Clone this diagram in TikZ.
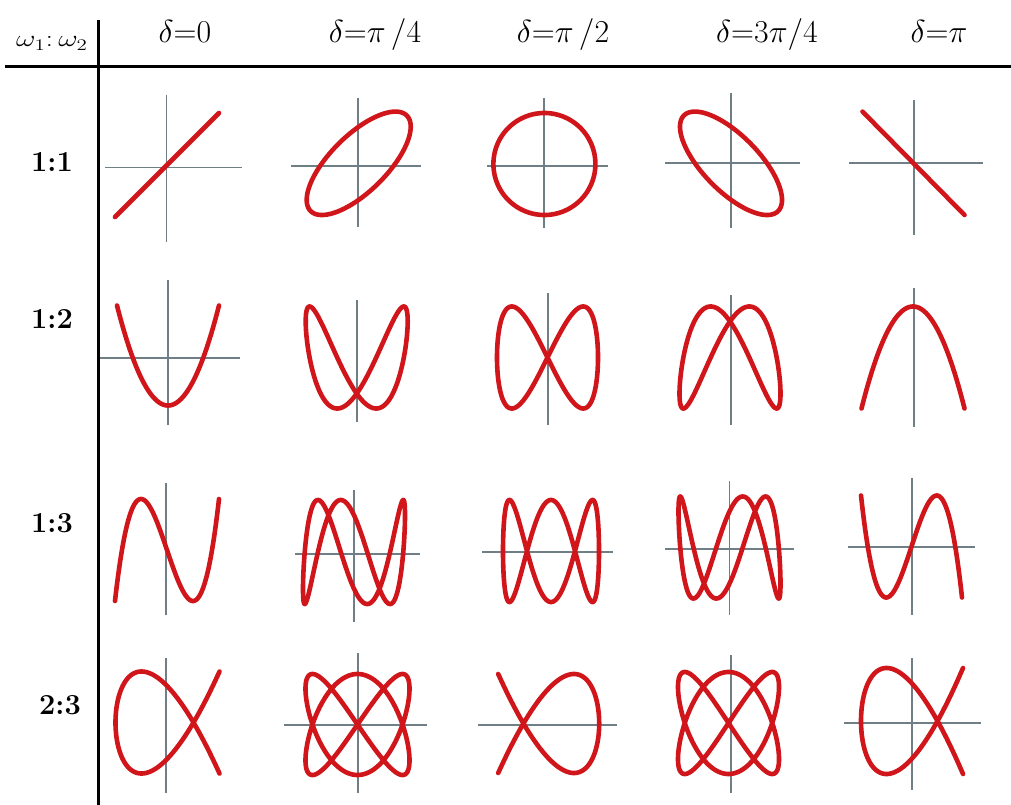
\documentclass[tikz,border=0pt]{standalone}
\usepackage{graphicx}
\definecolor{lred}{RGB}{208,22,26}
\definecolor{axgray}{RGB}{112,126,134}
\tikzset{
  axisline/.style={draw=axgray, line width=1.8pt},
  curve/.style={draw=lred, line width=4.6pt, line cap=round, line join=round},
  frameline/.style={draw=black, line width=3pt},
  headtxt/.style={anchor=base, font=\fontsize{24.88}{28}\selectfont, inner sep=0pt},
  rowtxt/.style={anchor=center, font=\fontsize{29}{32}\selectfont\bfseries, inner sep=0pt},
}
\newcommand{\hd}[1]{\scalebox{1.28}{$#1$}}
% cx cy a b p q delta(deg)
\newcommand{\lissa}[7]{%
  \draw[curve] plot[domain=0:360, samples=721, variable=\t] ({#1+#3*cos(#5*\t)},{#2-#4*cos(#6*\t+#7)});
}
\newcommand{\vax}[3]{\draw[axisline] (#1,#2) -- (#1,#3);}
\newcommand{\hax}[3]{\draw[axisline] (#2,#1) -- (#3,#1);}
\begin{document}
\begin{tikzpicture}[x=1pt,y=-1pt]
\useasboundingbox (0,0) rectangle (1011,805);
\fill[white] (0,0) rectangle (1011,805);

% frame
\draw[frameline] (5,67) -- (1011,67);
\draw[frameline] (98,20) -- (98,805);

% header
\node[anchor=base, inner sep=0pt] (corner) at (52,47) {\fontsize{17.28}{20}\selectfont\scalebox{1.75}[1.35]{$\omega_1{:}\,\omega_2$}};
\node[headtxt] (h0) at (185,43) {\hd{\delta{=}0}};
\node[headtxt] (h1) at (375,43) {\hd{\delta{=}\pi\,/4}};
\node[headtxt] (h2) at (563,43) {\hd{\delta{=}\pi\,/2}};
\node[headtxt] (h3) at (767,43) {\hd{\delta{=}3\pi/4}};
\node[headtxt] (h4) at (939,43) {\hd{\delta{=}\pi}};

% row labels
\node[rowtxt] (r1) at (52,162) {1:1};
\node[rowtxt] (r2) at (52,319) {1:2};
\node[rowtxt] (r3) at (52,523) {1:3};
\node[rowtxt] (r4) at (60,705) {2:3};

% ---------- row 1 (1:1)
\vax{166.5}{95}{242}\hax{167.5}{105}{242}
\lissa{167}{165}{52}{52}{1}{1}{0}
\vax{358.2}{98}{227}\hax{165.7}{291}{421}
\lissa{358.7}{163.3}{52}{51.7}{1}{1}{45}
\vax{544}{98}{228}\hax{166}{487}{608}
\lissa{544.4}{164}{51}{51}{1}{1}{90}
\vax{731}{93}{228}\hax{163.3}{665}{800}
\lissa{731}{163.3}{51}{51.7}{1}{1}{135}
\vax{913.7}{100}{235}\hax{163.3}{849}{983}
\lissa{913.5}{163.3}{51}{51.7}{1}{1}{180}

% ---------- row 2 (1:2)
\vax{168}{280}{425}\hax{357.7}{100}{240}
\lissa{168}{355.5}{51}{50}{1}{2}{0}
\vax{357}{300}{422}
\lissa{356.7}{357.5}{51}{51}{1}{2}{45}
\vax{548.2}{293}{425}
\lissa{547.5}{357.5}{50.5}{51}{1}{2}{90}
\vax{730.7}{295}{425}
\lissa{730}{357.5}{50.5}{51}{1}{2}{135}
\vax{913.7}{288}{427}
\lissa{913}{357.5}{51.5}{51}{1}{2}{180}

% ---------- row 3 (1:3)
\vax{166.3}{483}{615}
\lissa{167}{550}{52}{51}{1}{3}{0}
\vax{354}{490}{622}\hax{554.3}{295}{420}
\lissa{354}{552}{51}{52}{1}{3}{45}
\hax{551.7}{482}{612.5}
\lissa{551}{551}{48}{51}{1}{3}{90}
\vax{729.5}{481}{615}\hax{549}{665}{794}
\lissa{729.5}{547.5}{51}{51}{1}{3}{135}
\vax{912}{478}{615}\hax{546.7}{848}{975}
\lissa{911.5}{546.5}{50.5}{51}{1}{3}{180}

% ---------- row 4 (2:3)
\vax{166.3}{658}{793}
\lissa{167.5}{722.5}{52}{51}{2}{3}{0}
\vax{358}{653}{793}\hax{725}{284}{427}
\lissa{357.5}{724.5}{52}{50.5}{2}{3}{45}
\hax{725}{478}{617}
\lissa{548.7}{723.5}{50.5}{49.5}{2}{3}{90}
\vax{730.7}{655}{793}
\lissa{728.5}{723}{50.5}{51}{2}{3}{135}
\vax{912}{658}{790}\hax{722.7}{843.5}{981}
\lissa{912}{721}{51}{53}{2}{3}{180}
\end{tikzpicture}
\end{document}
